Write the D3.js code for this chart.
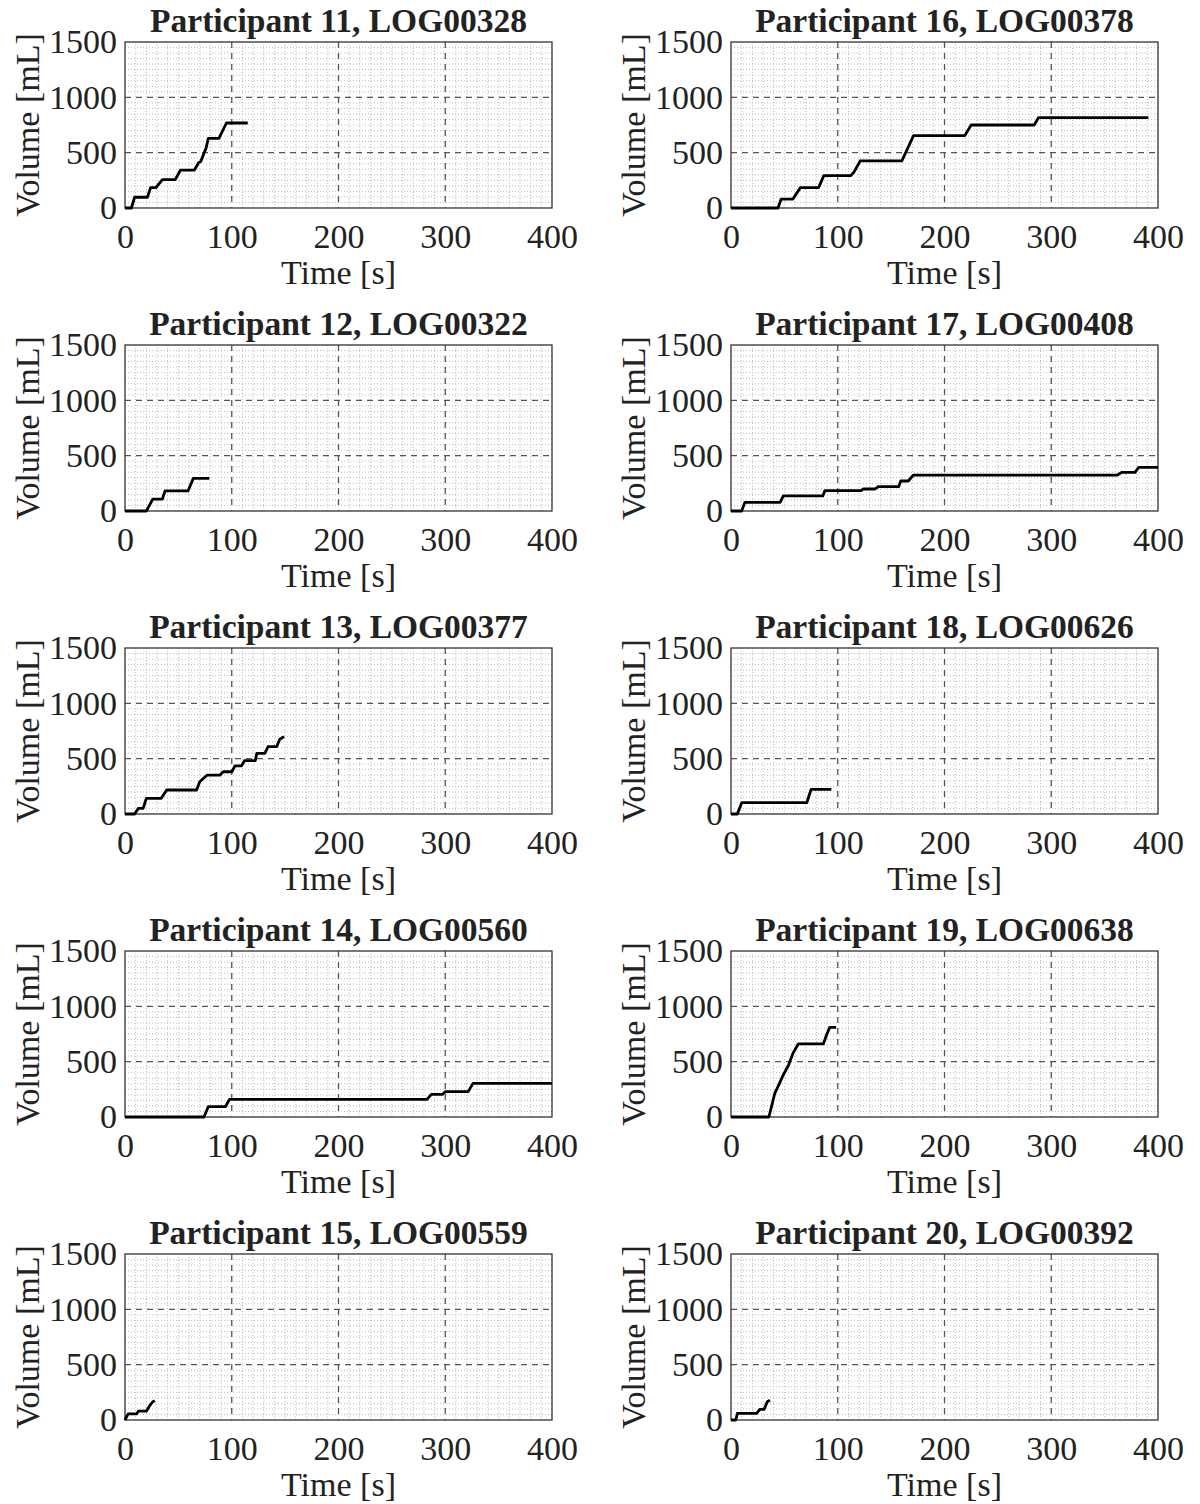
<!DOCTYPE html>
<html>
<head>
<meta charset="utf-8">
<script src="https://cdn.jsdelivr.net/npm/d3@7"></script>
<style>
  body { margin: 0; background: #fff; }
  svg text { font-family: "Liberation Serif", "Times New Roman", serif; fill: #222; }
</style>
</head>
<body>
<svg id="chart" width="1200" height="1504"></svg>
<script>
// panel titles, in reading order (left column top->bottom, then right column)
const titles = [
  "Participant 11, LOG00328", "Participant 12, LOG00322", "Participant 13, LOG00377",
  "Participant 14, LOG00560", "Participant 15, LOG00559",
  "Participant 16, LOG00378", "Participant 17, LOG00408", "Participant 18, LOG00626",
  "Participant 19, LOG00638", "Participant 20, LOG00392"
];

// cumulative volume [mL] against time [s]
const p11Time = [0, 6, 9, 21, 24, 29, 35, 47, 52, 65, 69, 71, 74, 76, 78, 88, 95, 115];
const p11Vol  = [0, 0, 97, 97, 184, 184, 256, 256, 343, 343, 410, 420, 494, 542, 630, 630, 768, 768];
const p12Time = [0, 20, 26, 35, 37.5, 59, 64, 79];
const p12Vol  = [0, 0, 108, 108, 181, 181, 295, 295];
const p13Time = [0, 9, 12.5, 17, 20, 34, 39, 67, 70, 77, 89, 92, 100, 103, 109, 112, 122, 123.5, 131, 134, 142, 145, 149];
const p13Vol  = [0, 0, 51, 51, 142, 142, 217, 217, 292, 352, 352, 382, 382, 434, 434, 482, 482, 548, 548, 608, 608, 675, 699];
const p14Time = [0, 74, 78, 94, 98, 283, 287, 297.5, 300, 321.5, 326, 400];
const p14Vol  = [0, 0, 93, 93, 160, 160, 205, 205, 229, 229, 304, 304];
const p15Time = [0, 1, 3, 11, 12.5, 20, 23, 26, 28];
const p15Vol  = [0, 20, 55, 55, 80, 80, 127, 165, 175];
const p16Time = [0, 44, 47, 58, 65, 82, 87, 112, 115, 121, 160, 171, 219, 225, 284, 288, 391];
const p16Vol  = [0, 0, 81, 81, 184, 184, 292, 292, 322, 425, 425, 654, 654, 750, 750, 816, 816];
const p17Time = [0, 10, 13, 46, 49, 86, 88, 122, 124, 135, 138, 157, 159, 166, 171, 362, 366, 378.5, 382, 400];
const p17Vol  = [0, 0, 78, 78, 136, 136, 184, 184, 199, 199, 220, 220, 271, 271, 325, 325, 349, 349, 395, 395];
const p18Time = [0, 6, 10, 71, 75, 94];
const p18Vol  = [0, 0, 102, 102, 223, 223];
const p19Time = [0, 35.5, 41, 44, 49, 54, 58, 63, 86.5, 89.5, 92.5, 98.5];
const p19Vol  = [0, 0, 214, 274, 380, 470, 575, 660, 660, 741, 810, 810];
const p20Time = [0, 4.5, 6, 24, 27, 31, 34, 36.5];
const p20Vol  = [0, 0, 60, 60, 96, 96, 165, 180];

const times = [p11Time, p12Time, p13Time, p14Time, p15Time, p16Time, p17Time, p18Time, p19Time, p20Time];
const vols  = [p11Vol, p12Vol, p13Vol, p14Vol, p15Vol, p16Vol, p17Vol, p18Vol, p19Vol, p20Vol];

const xTicks = [0, 100, 200, 300, 400];
const yTicks = [0, 500, 1000, 1500];

const svg = d3.select("#chart");

const plotW = 427, plotH = 166;
const colX = [125, 731];
const rowY = 42, rowStep = 303;

const x = d3.scaleLinear().domain([0, 400]).range([0, plotW]);
const y = d3.scaleLinear().domain([0, 1500]).range([plotH, 0]);

const line = d3.line()
    .x(d => x(d[0]))
    .y(d => y(d[1]));

titles.forEach((title, i) => {
    const col = Math.floor(i / 5), row = i % 5;
    const g = svg.append("g")
        .attr("transform", `translate(${colX[col]},${rowY + row * rowStep})`);

    // minor grid
    g.append("g").selectAll("line")
        .data(d3.range(10, 400, 10).filter(v => v % 100 !== 0))
        .enter().append("line")
        .attr("x1", d => x(d)).attr("x2", d => x(d))
        .attr("y1", 0).attr("y2", plotH)
        .attr("stroke", "#b4b4b4").attr("stroke-width", 0.9)
        .attr("stroke-dasharray", "1,2");
    g.append("g").selectAll("line")
        .data(d3.range(50, 1500, 50).filter(v => v % 500 !== 0))
        .enter().append("line")
        .attr("x1", 0).attr("x2", plotW)
        .attr("y1", d => y(d)).attr("y2", d => y(d))
        .attr("stroke", "#b4b4b4").attr("stroke-width", 0.9)
        .attr("stroke-dasharray", "1,2");

    // major grid
    g.append("g").selectAll("line")
        .data(xTicks.slice(1, -1))
        .enter().append("line")
        .attr("x1", d => x(d)).attr("x2", d => x(d))
        .attr("y1", 0).attr("y2", plotH)
        .attr("stroke", "#555").attr("stroke-width", 1.3)
        .attr("stroke-dasharray", "6,5");
    g.append("g").selectAll("line")
        .data(yTicks.slice(1, -1))
        .enter().append("line")
        .attr("x1", 0).attr("x2", plotW)
        .attr("y1", d => y(d)).attr("y2", d => y(d))
        .attr("stroke", "#555").attr("stroke-width", 1.3)
        .attr("stroke-dasharray", "6,5");

    // axes box
    g.append("rect")
        .attr("width", plotW).attr("height", plotH)
        .attr("fill", "none").attr("stroke", "#333").attr("stroke-width", 1.3);

    const xAxis = g.append("g")
        .attr("transform", `translate(0,${plotH})`)
        .call(d3.axisBottom(x).tickValues(xTicks).tickFormat(d3.format("d"))
            .tickSize(0).tickPadding(16));
    xAxis.select(".domain").remove();
    xAxis.selectAll("text").attr("font-size", 34).attr("dy", "0.71em")
        .style("font-family", "Liberation Serif").attr("fill", "#222");

    const yAxis = g.append("g")
        .call(d3.axisLeft(y).tickValues(yTicks).tickFormat(d3.format("d"))
            .tickSize(0).tickPadding(8));
    yAxis.select(".domain").remove();
    yAxis.selectAll("text").attr("font-size", 34)
        .style("font-family", "Liberation Serif").attr("fill", "#222");

    // data line
    const pts = times[i].map((t, k) => [t, vols[i][k]]);
    g.append("path")
        .datum(pts)
        .attr("fill", "none")
        .attr("stroke", "#000")
        .attr("stroke-width", 2.8)
        .attr("stroke-linejoin", "round")
        .attr("d", line);

    g.append("text")
        .attr("x", plotW / 2).attr("y", -10)
        .attr("text-anchor", "middle")
        .attr("font-size", 33.5).attr("font-weight", "bold")
        .attr("fill", "#111")
        .text(title);

    g.append("text")
        .attr("x", plotW / 2).attr("y", plotH + 76)
        .attr("text-anchor", "middle")
        .attr("font-size", 34)
        .text("Time [s]");

    g.append("text")
        .attr("transform", `translate(-86,${plotH / 2}) rotate(-90)`)
        .attr("text-anchor", "middle")
        .attr("font-size", 34)
        .text("Volume [mL]");
});
</script>
</body>
</html>
